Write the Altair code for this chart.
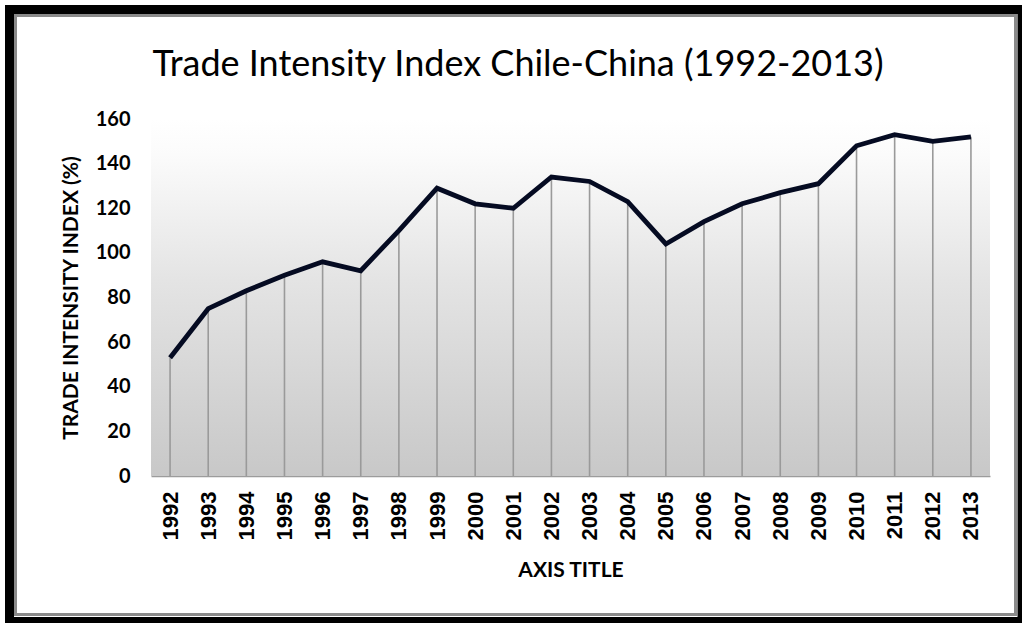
import altair as alt
import pandas as pd

# Trade intensity index, Chile-China, by year
years = [str(y) for y in range(1992, 2014)]
values = [53, 75, 83, 90, 96, 92, 110, 129, 122, 120, 134, 132,
          123, 104, 114, 122, 127, 131, 148, 153, 150, 152]
y_ticks = [0, 20, 40, 60, 80, 100, 120, 140, 160]

title_text = "Trade Intensity Index Chile-China (1992-2013)"
x_title = "AXIS TITLE"
y_title = "TRADE INTENSITY INDEX (%)"

# plot-area geometry (pixels)
W, H = 839, 357
PAD_L, PAD_T, PAD_R, PAD_B = 151, 119, 32, 147

df = pd.DataFrame({"year": years, "value": values})
one = pd.DataFrame({"k": [0]})

x_enc = alt.X("year:O", scale=alt.Scale(type="point", padding=0.5),
              axis=alt.Axis(title=x_title, labelAngle=-90, ticks=False,
                            domainColor="#9c9c9c", domainWidth=1.5,
                            labelFont="Liberation Sans", labelFontWeight="bold",
                            labelFontSize=22, labelColor="black", labelPadding=15,
                            labelAlign="right", labelBaseline="middle",
                            titleFont="Lato", titleFontWeight="bold",
                            titleFontSize=21, titleColor="black", titlePadding=20))
y_enc = alt.Y("value:Q", scale=alt.Scale(domain=[0, 160], nice=False),
              axis=alt.Axis(title=y_title, values=y_ticks, grid=False, ticks=False,
                            domain=False, labelFont="Lato", labelFontWeight="bold",
                            labelFontSize=20, labelColor="black", labelPadding=21,
                            titleFont="Lato", titleFontWeight="bold",
                            titleFontSize=21, titleColor="black", titlePadding=14))

# gradient plot background
background = alt.Chart(one).mark_rect(
    fill=alt.Gradient(
        gradient="linear", x1=0, x2=0, y1=0, y2=1,
        stops=[alt.GradientStop(color="#ffffff", offset=0),
               alt.GradientStop(color="#fbfbfb", offset=0.1),
               alt.GradientStop(color="#e4e4e4", offset=0.45),
               alt.GradientStop(color="#c8c8c8", offset=1)])
).encode(x=alt.value(0), x2=alt.value(W), y=alt.value(0), y2=alt.value(H))

# drop lines from each point to the axis
drops = alt.Chart(df).mark_rule(color="#9a9a9a", strokeWidth=1.6).encode(
    x=x_enc, y=y_enc, y2=alt.datum(0))

line = alt.Chart(df).mark_line(color="#050b22", strokeWidth=4.8,
                               strokeJoin="miter").encode(x=x_enc, y=y_enc)

title = alt.Chart(one).mark_text(
    text=title_text, font="Lato", fontSize=36, color="black",
    align="center", baseline="alphabetic"
).encode(x=alt.value(518 - PAD_L), y=alt.value(76 - PAD_T))

# frame around the whole figure
frame_outer = alt.Chart(one).mark_rect(
    fillOpacity=0, stroke="black", strokeWidth=9
).encode(x=alt.value(9.5 - PAD_L), x2=alt.value(1022 - PAD_L),
         y=alt.value(9.5 - PAD_T), y2=alt.value(621.5 - PAD_T))
frame_inner = alt.Chart(one).mark_rect(
    fillOpacity=0, stroke="#8a8a8a", strokeWidth=3
).encode(x=alt.value(15.5 - PAD_L), x2=alt.value(1015.5 - PAD_L),
         y=alt.value(15.5 - PAD_T), y2=alt.value(614.5 - PAD_T))

chart = alt.layer(background, drops, line, title, frame_inner, frame_outer).properties(
    width=W, height=H,
    autosize=alt.AutoSizeParams(type="none"),
    padding={"left": PAD_L, "top": PAD_T, "right": PAD_R, "bottom": PAD_B},
    background="white",
).configure_view(stroke=None)

chart.save("out.html", embed_options={"renderer": "svg", "actions": False})
